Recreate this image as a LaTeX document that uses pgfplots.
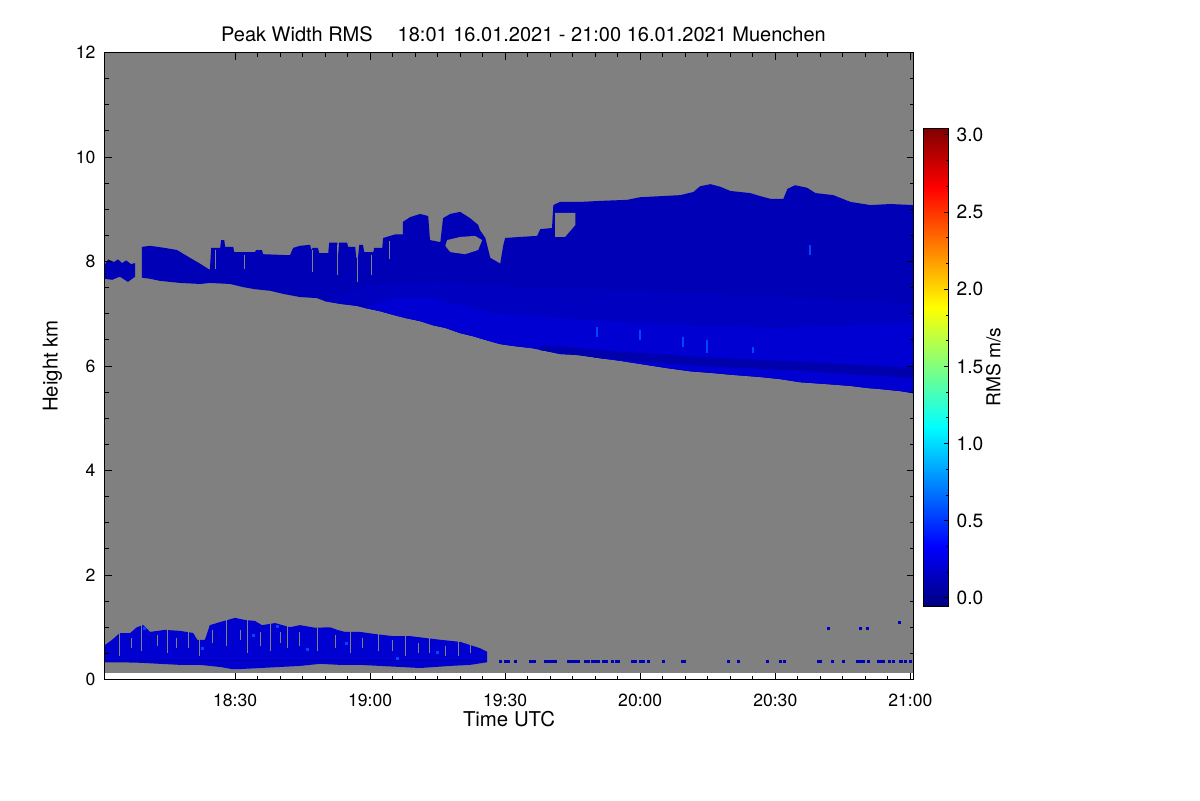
\documentclass[border=0pt]{standalone}
\usepackage{fontspec}
\setmainfont{TeX Gyre Heros}
\usepackage{pgfplots}
\pgfplotsset{compat=1.18}
\pgfplotsset{/pgf/number format/assume math mode=true}
\definecolor{bg}{RGB}{128,128,128}
\definecolor{cmain}{RGB}{0,0,182}
\definecolor{cmid}{RGB}{0,0,193}
\definecolor{cbright}{RGB}{0,0,210}
\definecolor{cdark}{RGB}{0,0,172}
\definecolor{clow}{RGB}{0,0,208}
\definecolor{cblip}{RGB}{0,70,255}
\pgfplotsset{colormap={idljet}{rgb255(0)=(0,0,128) rgb255(1)=(0,0,255) rgb255(3)=(0,255,255) rgb255(5)=(255,255,0) rgb255(7)=(255,0,0) rgb255(8)=(128,0,0)}}
\begin{document}
\begin{tikzpicture}
\path[use as bounding box] (0,0) rectangle (600pt,400pt);
\begin{axis}[
  at={(52.25pt,60.25pt)}, anchor=south west,
  scale only axis, width=404.5pt, height=313.5pt,
  xmin=1081, xmax=1260.7, ymin=0, ymax=12,
  axis on top,
  axis line style={line width=0.5pt},
  tick style={black, line width=0.5pt},
  tick align=inside,
  xtick={1110,1140,1170,1200,1230,1260},
  xticklabels={18:30,19:00,19:30,20:00,20:30,21:00},
  minor x tick num=5,
  ytick={0,2,4,6,8,10,12},
  minor y tick num=3,
  major tick length=3.5pt, minor tick length=2pt,
  ticklabel style={font=\fontsize{8.8pt}{10pt}\selectfont},
  xticklabel style={yshift=-3.5pt},
  yticklabel style={xshift=-1pt},
  xlabel={Time UTC}, ylabel={Height km},
  label style={font=\fontsize{10.2pt}{12pt}\selectfont},
  xlabel shift=-4.5pt,
  title={Peak Width RMS\hspace{1.25em}18:01 16.01.2021 - 21:00 16.01.2021 Muenchen},
  title style={font=\fontsize{10pt}{12pt}\selectfont, anchor=base, at={(0.5,1)}, xshift=7.25pt, yshift=-0.5pt},
  colorbar, colormap name=idljet,
  point meta min=-0.052, point meta max=3.045,
  colorbar style={
    at={(parent axis.south east)}, anchor=south west, xshift=-3.53pt, yshift=36.75pt,
    scale only axis, width=12.5pt, height=239pt,
    ytick={0,0.5,1,1.5,2,2.5,3},
    minor y tick num=2,
    ytick pos=right, yticklabel pos=right,
    tick align=inside,
    major tick length=2.5pt, minor tick length=1.5pt,
    tick style={black, line width=0.5pt},
    axis line style={line width=0.5pt},
    yticklabel={\fontsize{9.6pt}{11pt}\selectfont\pgfmathprintnumber[fixed,fixed zerofill,precision=1]{\tick}},
    yticklabel style={xshift=0.5pt},
    ylabel={\fontsize{9.6pt}{11pt}\selectfont RMS m/s},
    ylabel shift=-5.5pt,
  },
]
% gray data background
\addplot[fill=bg, draw=none] coordinates {(1081,0.12) (1260.7,0.12) (1260.7,12) (1081,12)} -- cycle;

% small cloud piece at the left
\addplot[fill=cmain, draw=none] coordinates {
(1081.0,7.93) (1081.8,8.04) (1083.1,7.99) (1084.0,8.04) (1084.9,7.97) (1085.8,8.02) (1086.9,7.95) (1087.8,7.97)
(1087.8,7.71) (1086.2,7.61) (1084.4,7.71) (1082.7,7.65) (1081.0,7.67)} -- cycle;

% main upper cloud
\addplot[fill=cmain, draw=none] coordinates {
(1089.3,8.28) (1091.1,8.30) (1094.4,8.26) (1097.1,8.22) (1100.0,8.07) (1102.2,7.96) (1104.4,7.84)
(1104.7,8.26) (1106.7,8.26) (1106.9,8.41) (1107.6,8.41) (1107.8,8.28) (1109.6,8.28) (1109.8,8.18) (1114.4,8.18)
(1114.7,8.22) (1116.0,8.22) (1116.2,8.14) (1122.2,8.12) (1122.9,8.26) (1124.4,8.30) (1126.7,8.32) (1126.9,8.22)
(1127.3,8.26) (1128.4,8.26) (1128.7,8.16) (1130.7,8.16) (1130.9,8.36) (1132.7,8.36) (1132.9,8.11) (1133.1,8.36)
(1134.9,8.36) (1135.1,8.28) (1136.7,8.28) (1136.9,8.07) (1137.3,8.07) (1137.6,8.32) (1138.4,8.32) (1138.7,8.18)
(1140.7,8.18) (1140.9,8.26) (1142.7,8.26) (1142.9,8.45) (1145.6,8.52) (1147.3,8.52)
(1147.3,8.76) (1148.9,8.85) (1151.1,8.91) (1152.9,8.87)
(1153.3,8.41) (1155.6,8.37) (1156.2,8.83) (1157.8,8.91) (1160.0,8.95) (1162.2,8.83) (1164.0,8.70) (1164.4,8.60)
(1165.6,8.45) (1166.7,8.07) (1168.9,7.96) (1169.6,8.32) (1170.0,8.45) (1173.3,8.47) (1177.1,8.49) (1177.8,8.62)
(1180.4,8.64) (1180.7,9.08) (1182.2,9.14) (1186.7,9.14) (1191.1,9.16) (1197.1,9.18) (1200.0,9.23) (1204.4,9.25)
(1208.9,9.27) (1211.8,9.33) (1213.3,9.44) (1215.6,9.48) (1217.8,9.43) (1220.0,9.35) (1224.4,9.31) (1226.7,9.25)
(1228.9,9.20) (1231.8,9.20) (1232.7,9.39) (1234.4,9.46) (1237.1,9.41) (1238.9,9.31) (1242.9,9.27) (1246.7,9.14)
(1251.1,9.08) (1255.6,9.10) (1260.7,9.08)
(1260.7,5.48) (1257.8,5.52) (1253.3,5.56) (1250.4,5.58) (1246.7,5.62) (1242.2,5.65) (1235.6,5.69) (1231.1,5.75)
(1226.7,5.79) (1220.7,5.83) (1215.6,5.87) (1211.1,5.90) (1206.0,5.96) (1200.0,6.04) (1195.6,6.10) (1191.1,6.15)
(1186.7,6.21) (1182.2,6.23) (1176.2,6.34) (1172.2,6.38) (1168.9,6.42) (1165.6,6.50) (1162.9,6.57) (1160.0,6.63)
(1156.7,6.73) (1154.0,6.78) (1151.1,6.86) (1147.8,6.92) (1145.1,6.98) (1142.2,7.05) (1138.9,7.11) (1137.1,7.15)
(1133.3,7.19) (1130.0,7.24) (1128.2,7.30) (1124.4,7.32) (1120.7,7.38) (1117.8,7.44) (1114.4,7.47) (1111.8,7.51)
(1108.9,7.57) (1104.4,7.59) (1102.2,7.57) (1097.8,7.59) (1093.3,7.63) (1091.1,7.67) (1089.3,7.69)} -- cycle;

% slightly lighter lower half
\addplot[fill=cmid, draw=none] coordinates {
(1130.0,7.24) (1140.0,7.55) (1155.0,7.60) (1175.0,7.50) (1200.0,7.45) (1225.0,7.35) (1245.0,7.25) (1260.7,7.20)
(1260.7,5.48) (1257.8,5.52) (1253.3,5.56) (1250.4,5.58) (1246.7,5.62) (1242.2,5.65) (1235.6,5.69) (1231.1,5.75)
(1226.7,5.79) (1220.7,5.83) (1215.6,5.87) (1211.1,5.90) (1206.0,5.96) (1200.0,6.04) (1195.6,6.10) (1191.1,6.15)
(1186.7,6.21) (1182.2,6.23) (1176.2,6.34) (1172.2,6.38) (1168.9,6.42) (1165.6,6.50) (1162.9,6.57) (1160.0,6.63)
(1156.7,6.73) (1154.0,6.78) (1151.1,6.86) (1147.8,6.92) (1145.1,6.98) (1142.2,7.05) (1138.9,7.11) (1137.1,7.15)
(1133.3,7.19)} -- cycle;

% brighter lower band
\addplot[fill=cbright, draw=none] coordinates {
(1138.9,7.11) (1145.0,7.30) (1153.3,7.30) (1162.2,7.12) (1168.9,7.00) (1182.2,6.92) (1195.6,6.84) (1213.3,6.77)
(1231.1,6.73) (1248.9,6.78) (1260.7,6.84)
(1260.7,5.48) (1257.8,5.52) (1253.3,5.56) (1250.4,5.58) (1246.7,5.62) (1242.2,5.65) (1235.6,5.69) (1231.1,5.75)
(1226.7,5.79) (1220.7,5.83) (1215.6,5.87) (1211.1,5.90) (1206.0,5.96) (1200.0,6.04) (1195.6,6.10) (1191.1,6.15)
(1186.7,6.21) (1182.2,6.23) (1176.2,6.34) (1172.2,6.38) (1168.9,6.42) (1165.6,6.50) (1162.9,6.57) (1160.0,6.63)
(1156.7,6.73) (1154.0,6.78) (1151.1,6.86) (1147.8,6.92) (1145.1,6.98) (1142.2,7.05)} -- cycle;

% darker strip inside the band
\addplot[fill=cdark, draw=none] coordinates {
(1177.8,6.40) (1191.1,6.30) (1213.3,6.17) (1235.6,6.08) (1260.7,5.96)
(1260.7,5.77) (1235.6,5.91) (1213.3,6.00) (1191.1,6.15) (1177.8,6.30)} -- cycle;

% gaps in the cloud
\addplot[fill=bg, draw=none] coordinates {
(1157.1,8.41) (1160.0,8.47) (1163.3,8.49) (1164.9,8.41) (1164.0,8.22) (1161.1,8.14) (1157.8,8.18) (1156.7,8.30)} -- cycle;
\addplot[fill=bg, draw=none] coordinates {
(1181.1,8.93) (1185.6,8.93) (1185.6,8.70) (1183.3,8.47) (1181.1,8.47)} -- cycle;
\addplot[bg, line width=0.5pt, unbounded coords=jump] coordinates {
(1105.6,8.22) (1105.6,7.85) (nan,nan)
(1112.2,8.12) (1112.2,7.85) (nan,nan)
(1127.3,8.22) (1127.3,7.80) (nan,nan)
(1132.7,8.32) (1132.7,7.75) (nan,nan)
(1137.1,8.07) (1137.1,7.60) (nan,nan)
(1140.4,8.12) (1140.4,7.75) (nan,nan)
(1144.4,8.40) (1144.4,8.05)};

% small brighter streaks
\addplot[cblip, line width=1pt, unbounded coords=jump] coordinates {
(1190.4,6.75) (1190.4,6.55) (nan,nan)
(1200.0,6.69) (1200.0,6.50) (nan,nan)
(1209.6,6.56) (1209.6,6.36) (nan,nan)
(1214.9,6.50) (1214.9,6.25) (nan,nan)
(1225.1,6.36) (1225.1,6.25) (nan,nan)
(1237.8,8.32) (1237.8,8.12)};

% low-level clutter
\addplot[fill=clow, draw=none] coordinates {
(1081.1,0.66) (1082.7,0.76) (1084.4,0.89) (1086.7,0.89) (1088.2,1.00) (1089.6,1.04) (1091.1,0.91) (1094.4,0.95)
(1097.8,0.93) (1100.7,0.89) (1101.6,0.76) (1103.3,0.76) (1104.4,1.04) (1106.7,1.10) (1108.4,1.14) (1110.0,1.18)
(1112.2,1.14) (1114.4,1.12) (1116.0,1.04) (1118.9,1.08) (1122.2,1.00) (1124.4,1.04) (1127.8,0.99) (1131.1,1.00)
(1132.7,0.95) (1134.4,0.91) (1137.8,0.91) (1141.1,0.87) (1145.1,0.83) (1148.9,0.83) (1152.7,0.79) (1155.6,0.76)
(1160.0,0.72) (1162.2,0.66) (1164.4,0.60) (1166.0,0.53)
(1166.0,0.33) (1162.2,0.28) (1157.8,0.26) (1151.1,0.22) (1146.7,0.24) (1142.2,0.26) (1137.8,0.28) (1133.3,0.28)
(1128.9,0.30) (1124.4,0.26) (1120.0,0.24) (1115.6,0.22) (1111.1,0.20) (1109.3,0.20) (1106.7,0.24) (1102.2,0.28)
(1097.8,0.28) (1093.3,0.30) (1088.9,0.32) (1084.4,0.33) (1081.1,0.33)} -- cycle;
% gaps in the clutter
\addplot[bg, line width=0.5pt, unbounded coords=jump] coordinates {
(1084.4,1.2) (1084.4,0.45) (nan,nan) (1087.1,0.80) (1087.1,0.60) (nan,nan)
(1089.3,1.2) (1089.3,0.55) (nan,nan) (1092.7,0.85) (1092.7,0.65) (nan,nan)
(1095.1,1.2) (1095.1,0.50) (nan,nan) (1097.1,0.80) (1097.1,0.60) (nan,nan)
(1099.6,1.2) (1099.6,0.60) (nan,nan) (1102.2,1.2) (1102.2,0.45) (nan,nan)
(1104.9,0.95) (1104.9,0.70) (nan,nan) (1108.2,1.3) (1108.2,0.65) (nan,nan)
(1111.1,0.95) (1111.1,0.75) (nan,nan) (1112.7,1.3) (1112.7,0.50) (nan,nan)
(1115.6,0.90) (1115.6,0.65) (nan,nan) (1117.8,1.3) (1117.8,0.55) (nan,nan)
(1120.0,0.90) (1120.0,0.70) (nan,nan) (1121.6,1.3) (1121.6,0.60) (nan,nan)
(1124.4,0.90) (1124.4,0.65) (nan,nan) (1128.4,1.3) (1128.4,0.55) (nan,nan)
(1132.2,0.85) (1132.2,0.60) (nan,nan) (1135.6,1.3) (1135.6,0.50) (nan,nan)
(1138.2,0.80) (1138.2,0.60) (nan,nan) (1141.8,1.3) (1141.8,0.55) (nan,nan)
(1144.9,0.75) (1144.9,0.55) (nan,nan) (1147.8,1.3) (1147.8,0.45) (nan,nan)
(1150.7,0.70) (1150.7,0.50) (nan,nan) (1153.3,1.3) (1153.3,0.50) (nan,nan)
(1156.7,0.65) (1156.7,0.45) (nan,nan) (1159.6,1.3) (1159.6,0.45) (nan,nan)
(1162.2,1.3) (1162.2,0.50)};
\addplot[cdark, line width=0.8pt] coordinates {(1081.5,0.36) (1166.0,0.36)};
\addplot[only marks, mark=square*, mark size=0.5pt, color=cblip] coordinates {
(1089.8,0.98) (1102.7,0.60) (1114.0,0.85) (1119.5,1.02) (1126.0,0.58) (1134.8,0.70) (1146.0,0.40) (1155.0,0.52)};

% isolated returns near the ground
\addplot[only marks, mark=square*, mark size=0.55pt, color=cmain] coordinates {
(1169.0,0.35) (1170.0,0.35) (1170.7,0.35) (1172.2,0.35) (1175.6,0.35) (1176.4,0.35)
(1178.9,0.35) (1179.6,0.35) (1180.4,0.35) (1181.1,0.35) (1184.1,0.35) (1184.8,0.35) (1185.6,0.35) (1186.3,0.35)
(1187.8,0.35) (1188.5,0.35) (1189.3,0.35) (1190.0,0.35) (1190.7,0.35) (1191.8,0.35) (1192.4,0.35)
(1193.9,0.35) (1194.7,0.35) (1195.2,0.35) (1198.2,0.35) (1198.9,0.35) (1200.0,0.35) (1200.7,0.35) (1201.8,0.35)
(1205.2,0.35) (1209.3,0.35) (1209.8,0.35) (1219.6,0.35) (1221.8,0.35) (1228.3,0.35) (1231.1,0.35) (1232.0,0.35)
(1239.6,0.35) (1240.0,0.35) (1242.6,0.35) (1245.2,0.35) (1248.2,0.35) (1248.9,0.35) (1249.6,0.35) (1250.7,0.35)
(1253.0,0.35) (1253.7,0.35) (1254.1,0.35) (1255.4,0.35) (1256.3,0.35) (1257.9,0.35) (1258.9,0.35) (1260.0,0.35)
(1241.8,0.98) (1248.9,0.98) (1250.4,0.98) (1257.6,1.10)};
\end{axis}
\end{tikzpicture}
\end{document}
